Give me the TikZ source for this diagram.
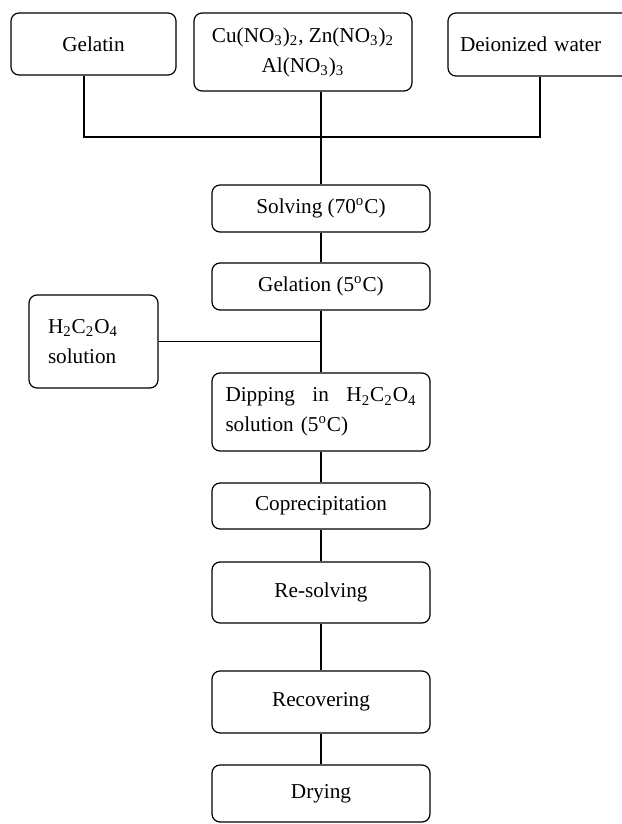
\documentclass[tikz,border=0pt]{standalone}
\usepackage{fontspec}
\setmainfont{Liberation Serif}

\begin{document}
\begin{tikzpicture}[x=0.5pt,y=-0.5pt,line width=0.6pt,
    every node/.style={font=\fontsize{10.6}{15}\selectfont},
    box/.style={draw, rounded corners=4pt, inner sep=0pt, align=center},
    stage/.style={box, minimum width=109pt}]
        \useasboundingbox (0,0) rectangle (621,824);
        % Starting materials
        \node[box, minimum width=82.5pt, minimum height=31pt] (gel) at (93.5,44) {Gelatin};
        \node[box, minimum width=109pt, minimum height=39pt] (salt) at (303,52) {Cu(NO\textsubscript{3})\textsubscript{2}, Zn(NO\textsubscript{3})\textsubscript{2}\\Al(NO\textsubscript{3})\textsubscript{3}};
        \node[box, minimum width=92pt, minimum height=31.5pt, text width=80pt, align=left] (water) at (540,44.5) {Deionized water};
        \node[box, minimum width=64.5pt, minimum height=46.5pt, text width=45.5pt, align=left] (acid) at (93.5,341.5) {H\textsubscript{2}C\textsubscript{2}O\textsubscript{4}\\solution};
        % Process steps
        \node[stage, minimum height=23.5pt] (solv) at (321,208.5) {Solving (70\textsuperscript{o}C)};
        \node[stage, minimum height=23.5pt] (gelation) at (321,286.5) {Gelation (5\textsuperscript{o}C)};
        \node[stage, minimum height=39pt, text width=95.5pt, align=left] (dip) at (321,412) {Dipping\hfill in\hfill H\textsubscript{2}C\textsubscript{2}O\textsubscript{4}\\solution (5\textsuperscript{o}C)};
        \node[stage, minimum height=23pt] (coprec) at (321,506) {Coprecipitation};
        \node[stage, minimum height=30.5pt] (resolv) at (321,592.5) {Re-solving};
        \node[stage, minimum height=31pt] (recov) at (321,702) {Recovering};
        \node[stage, minimum height=28.5pt] (dry) at (321,793.5) {Drying};
        \coordinate (join) at (321,137);
        % Connectors
        \draw ([xshift=-4.75pt]gel.south) |- (join) -| (water.south);
        \draw (salt.south -| join) -- (solv.north);
        \draw (solv) -- (gelation);
        \draw (gelation) -- (dip);
        \draw (acid.east) -- (acid.east -| dip.north);
        \draw (dip) -- (coprec);
        \draw (coprec) -- (resolv);
        \draw (resolv) -- (recov);
        \draw (recov) -- (dry);
    \end{tikzpicture}
\end{document}
